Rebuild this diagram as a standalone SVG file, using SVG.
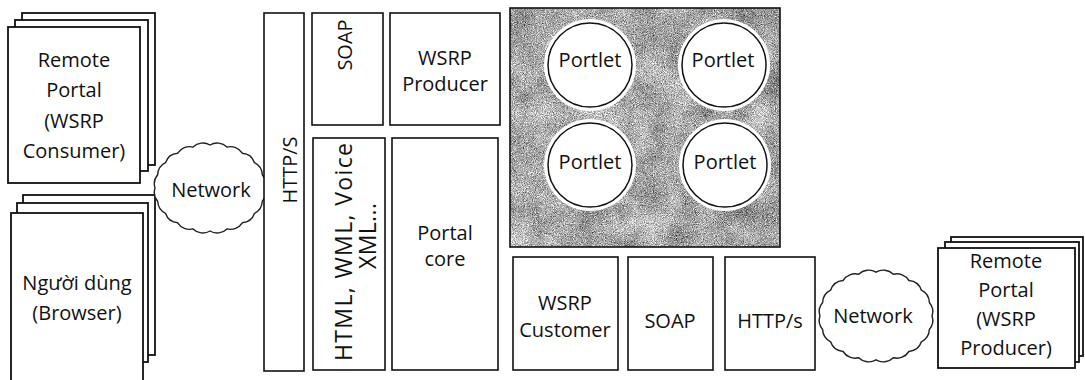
<svg xmlns="http://www.w3.org/2000/svg" width="1085" height="380" viewBox="0 0 1085 380">
<style>
.box{fill:#fff;stroke:#111;stroke-width:1.6}
.pg{fill:#fff;stroke:#111;stroke-width:1.8}
.t{font-family:"Open Sans","Liberation Sans",sans-serif;font-size:20px;fill:#111;text-anchor:middle}
.cloud{fill:#fff;stroke:#222;stroke-width:1.4}
</style>
<defs>
<path id="cloudShape" d="M55,0 A14,14 0 0,1 52.3,13.3 A14,14 0 0,1 44.5,25.3 A14,14 0 0,1 32.3,34.8 A14,14 0 0,1 17,40.9 A14,14 0 0,1 0,43 A14,14 0 0,1 -17,40.9 A14,14 0 0,1 -32.3,34.8 A14,14 0 0,1 -44.5,25.3 A14,14 0 0,1 -52.3,13.3 A14,14 0 0,1 -55,0 A14,14 0 0,1 -52.3,-13.3 A14,14 0 0,1 -44.5,-25.3 A14,14 0 0,1 -32.3,-34.8 A14,14 0 0,1 -17,-40.9 A14,14 0 0,1 0,-43 A14,14 0 0,1 17,-40.9 A14,14 0 0,1 32.3,-34.8 A14,14 0 0,1 44.5,-25.3 A14,14 0 0,1 52.3,-13.3 A14,14 0 0,1 55,0 Z"/>
<filter id="grain" x="0" y="0" width="1" height="1" color-interpolation-filters="sRGB">
<feTurbulence type="fractalNoise" baseFrequency="1.1" numOctaves="2" seed="7" result="fine"/>
<feColorMatrix in="fine" type="matrix" values="0.33 0.33 0.33 0 0 0.33 0.33 0.33 0 0 0.33 0.33 0.33 0 0 0 0 0 0 1" result="fineG"/>
<feTurbulence type="fractalNoise" baseFrequency="0.03" numOctaves="3" seed="11" result="coarse"/>
<feColorMatrix in="coarse" type="matrix" values="0.33 0.33 0.33 0 0 0.33 0.33 0.33 0 0 0.33 0.33 0.33 0 0 0 0 0 0 1" result="coarseG"/>
<feComposite in="fineG" in2="coarseG" operator="arithmetic" k1="0" k2="0.9" k3="0.35" k4="-0.125" result="mix"/>
<feComponentTransfer in="mix">
<feFuncR type="linear" slope="2.2" intercept="-0.42"/>
<feFuncG type="linear" slope="2.2" intercept="-0.42"/>
<feFuncB type="linear" slope="2.2" intercept="-0.42"/>
<feFuncA type="linear" slope="0" intercept="1"/>
</feComponentTransfer>
</filter>
</defs>
<rect width="1085" height="380" fill="#fff"/>

<g id="remote-portal-consumer">
<rect class="pg" x="22" y="13" width="133" height="152"/>
<rect class="pg" x="15" y="20" width="133" height="151"/>
<rect class="pg" x="8" y="27" width="132" height="156"/>
<text class="t" x="74" y="67">Remote</text>
<text class="t" x="74" y="97">Portal</text>
<text class="t" x="74" y="128">(WSRP</text>
<text class="t" x="74" y="158">Consumer)</text>
</g>

<g id="nguoi-dung">
<rect class="pg" x="23" y="195" width="132" height="160"/>
<rect class="pg" x="17" y="203" width="131" height="159"/>
<rect class="pg" x="11" y="213" width="132" height="170"/>
<text class="t" x="77" y="290">Người dùng</text>
<text class="t" x="77" y="320">(Browser)</text>
</g>

<g id="network-left">
<use href="#cloudShape" class="cloud" transform="translate(210,188)"/>
<text class="t" x="211" y="197">Network</text>
</g>

<g id="https-bar">
<rect class="box" x="264" y="13" width="40" height="358"/>
<text class="t" font-size="22" transform="translate(297,170) rotate(-90)">HTTP/S</text>
</g>

<g id="soap-top">
<rect class="box" x="312" y="13" width="71" height="112"/>
<text class="t" transform="translate(352,45) rotate(-90)">SOAP</text>
</g>

<g id="wsrp-producer">
<rect class="box" x="390" y="13" width="110" height="112"/>
<text class="t" x="445" y="65">WSRP</text>
<text class="t" x="445" y="91">Producer</text>
</g>

<g id="markup">
<rect class="box" x="313" y="138" width="72" height="232"/>
<text class="t" style="font-size:23px" textLength="218" lengthAdjust="spacing" transform="translate(352,252) rotate(-90)">HTML, WML, Voice</text>
<text class="t" style="font-size:23px" textLength="66" lengthAdjust="spacing" transform="translate(376,236) rotate(-90)">XML...</text>
</g>

<g id="portal-core">
<rect class="box" x="392" y="138" width="106" height="232"/>
<text class="t" x="445" y="240">Portal</text>
<text class="t" x="445" y="266">core</text>
</g>

<g id="portlet-container">
<rect x="510" y="8" width="270" height="239" filter="url(#grain)"/>
<rect x="510" y="8" width="270" height="239" fill="none" stroke="#111" stroke-width="1.6"/>
<g id="portlet-1">
<circle cx="590" cy="65" r="46" fill="#fff"/>
<circle cx="590" cy="65" r="42" fill="#fff" stroke="#111" stroke-width="1.5"/>
<text class="t" x="590" y="67">Portlet</text>
</g>
<g id="portlet-2">
<circle cx="724" cy="65" r="46" fill="#fff"/>
<circle cx="724" cy="65" r="42" fill="#fff" stroke="#111" stroke-width="1.5"/>
<text class="t" x="723" y="67">Portlet</text>
</g>
<g id="portlet-3">
<circle cx="590" cy="165" r="46" fill="#fff"/>
<circle cx="590" cy="165" r="42" fill="#fff" stroke="#111" stroke-width="1.5"/>
<text class="t" x="590" y="169">Portlet</text>
</g>
<g id="portlet-4">
<circle cx="725" cy="165" r="46" fill="#fff"/>
<circle cx="725" cy="165" r="42" fill="#fff" stroke="#111" stroke-width="1.5"/>
<text class="t" x="725" y="169">Portlet</text>
</g>
</g>

<g id="wsrp-customer">
<rect class="box" x="513" y="257" width="105" height="113"/>
<text class="t" x="565" y="310">WSRP</text>
<text class="t" x="565" y="337">Customer</text>
</g>

<g id="soap-bottom">
<rect class="box" x="628" y="257" width="85" height="113"/>
<text class="t" x="670" y="328">SOAP</text>
</g>

<g id="https-bottom">
<rect class="box" x="725" y="257" width="90" height="113"/>
<text class="t" x="770" y="328">HTTP/s</text>
</g>

<g id="network-right">
<use href="#cloudShape" class="cloud" transform="translate(876,316) scale(1.02,1.02)"/>
<text class="t" x="873" y="323">Network</text>
</g>

<g id="remote-portal-producer">
<rect class="pg" x="951" y="237" width="132" height="119"/>
<rect class="pg" x="945" y="242" width="134" height="120"/>
<rect class="pg" x="938" y="248" width="137" height="120"/>
<text class="t" x="1006" y="268">Remote</text>
<text class="t" x="1006" y="297">Portal</text>
<text class="t" x="1006" y="326">(WSRP</text>
<text class="t" x="1006" y="355">Producer)</text>
</g>

<g id="connectors"></g>
</svg>
